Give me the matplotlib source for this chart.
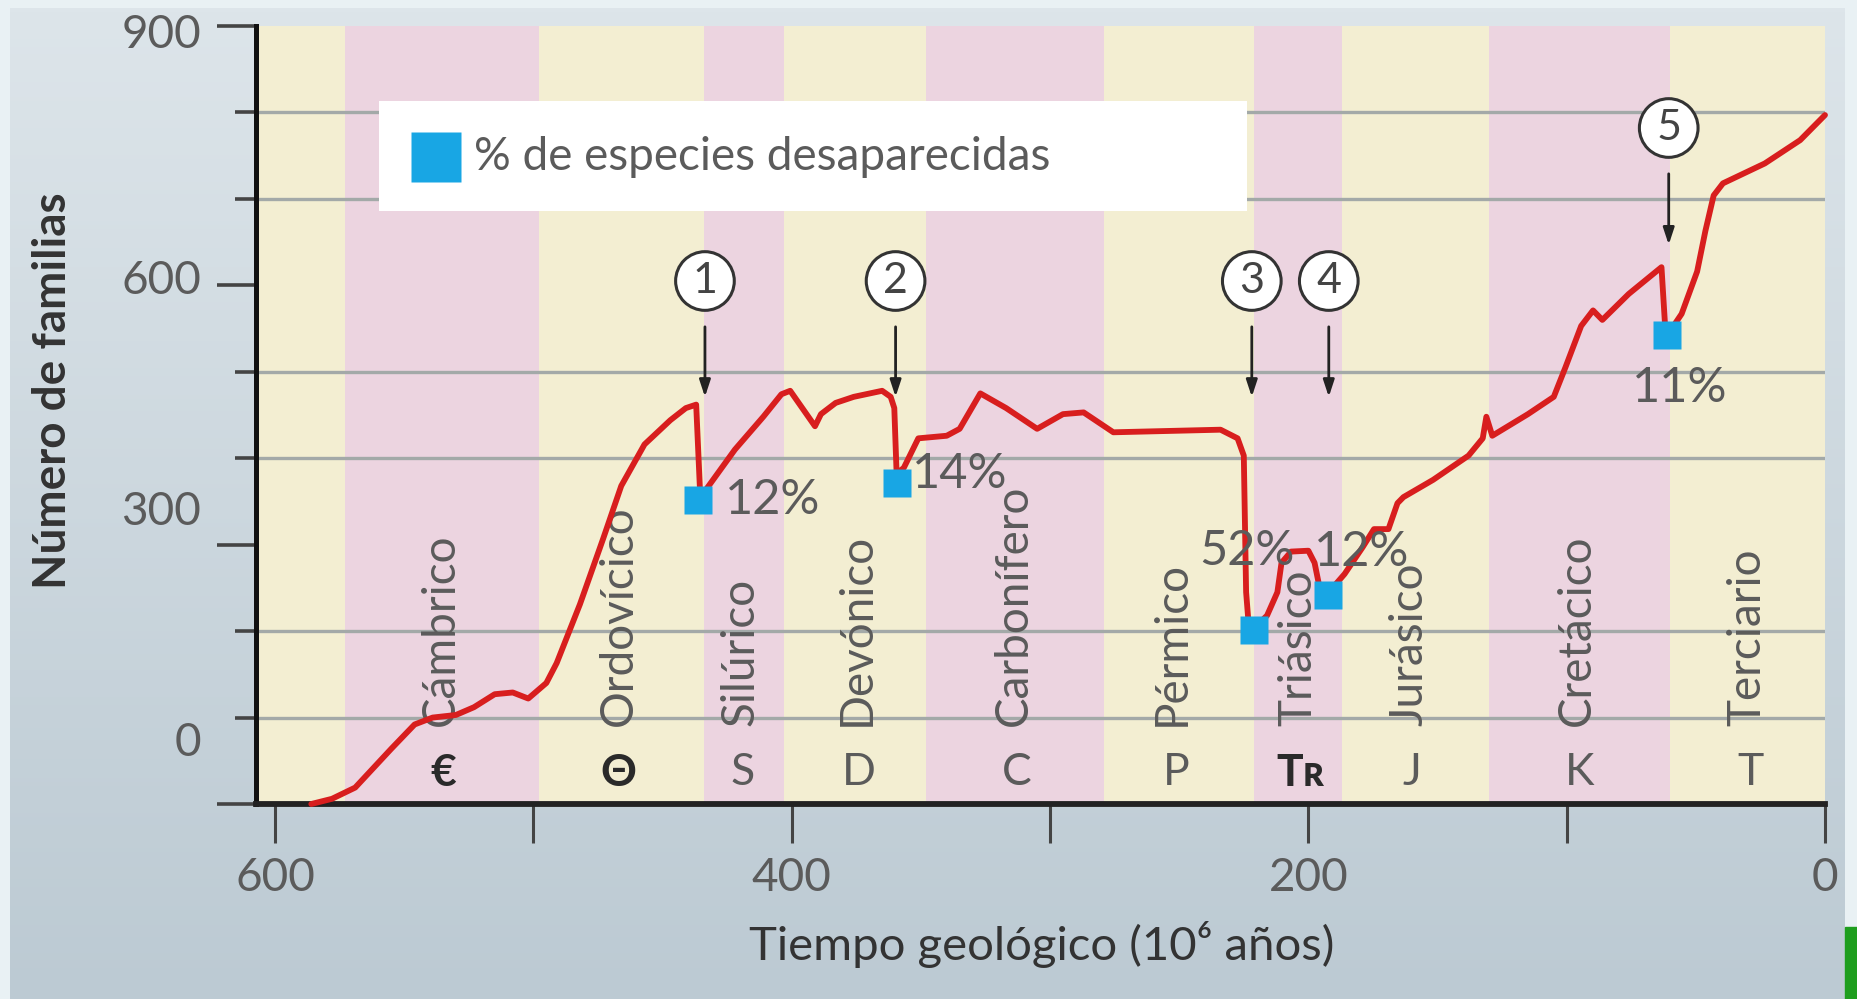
import matplotlib
matplotlib.use("Agg")
import numpy as np
import matplotlib.pyplot as plt
import matplotlib.transforms as mtransforms
from matplotlib.patches import Rectangle
from matplotlib.colors import LinearSegmentedColormap

plt.rcParams['font.family'] = ['Lato', 'DejaVu Sans']

# geological periods (Ma)
bounds = [607.4, 573, 498, 434, 403, 348, 279, 221, 187, 130, 60, 0]
periods = ["Cámbrico", "Ordovícico", "Silúrico", "Devónico", "Carbonífero",
           "Pérmico", "Triásico", "Jurásico", "Cretácico", "Terciario"]
period_x = [536, 467, 420, 375, 314, 253, 204, 161, 96, 30]
symbols = ["€", "Θ", "S", "D", "C", "P", "Tʀ", "J", "K", "T"]
symbol_x = [535, 467, 419, 374, 313, 251, 203, 160, 95, 29]

# number of families through time
time = [586, 578, 569, 555, 546, 539, 530, 523, 515, 508, 502, 495, 491, 482, 473, 466,
        457, 447, 441, 437, 435.4, 433.6, 422, 411, 404, 400.6, 391, 388.7, 383, 376,
        365, 361.7, 360.3, 359.4, 356.6, 351, 340, 335, 327, 317, 305, 295, 287, 279,
        275.5, 234, 227.4, 225, 224.1, 223.2, 220.5, 216, 212, 210.4, 206.7, 200,
        197.6, 195.3, 192.1, 186, 179, 174.6, 169, 165.5, 163.2, 151.7, 138, 132.5,
        131.1, 128.8, 115, 105, 100.5, 94.4, 89.8, 86.2, 76, 67, 63.3, 61.9, 60,
        55.5, 49.5, 46.3, 43.1, 39.5, 23.3, 9.6, 0]
families = [0, 6, 19, 64, 92, 100, 103, 112, 127, 129, 122, 140, 163, 231, 307, 368,
            416, 444, 458, 462, 355, 362, 410, 448, 474, 478, 437, 451, 464, 471,
            478, 471, 458, 382, 389, 423, 426, 434, 475, 458, 434, 451, 453, 437,
            430, 433, 423, 403, 245, 211, 205, 218, 245, 279, 292, 293,
            279, 245, 245, 266, 297, 318, 318, 348, 355, 375, 403, 423,
            448, 426, 451, 471, 505, 553, 571, 560, 590, 612, 621, 553, 547,
            567, 616, 663, 704, 718, 741, 768, 797]

# extinction events
event_num = ["1", "2", "3", "4", "5"]
event_x = [433.6, 359.8, 221.9, 192.1, 60.5]
event_circle_y = [605, 605, 605, 605, 782]
event_arrow_top = [552, 552, 552, 552, 729]
event_arrow_bot = [471, 471, 471, 471, 647]
square_x = [436.4, 359.4, 221, 192.5, 61]
square_y = [352, 371, 201, 242, 542]
pct_labels = ["12%", "14%", "52%", "12%", "11%"]
pct_x = [425.8, 353.4, 223.7, 179.2, 56.4]
pct_y = [352, 382, 293, 292, 481]
pct_ha = ["left", "left", "center", "center", "center"]

ytick_major = [0, 300, 600, 900]
ytick_minor = [100, 200, 400, 500, 700, 800]
ylabel_pos = [70, 338, 605, 890]
xtick_major = [600, 400, 200, 0]
xtick_minor = [500, 300, 100]

yellow = "#f3eed2"
pink = "#ecd4e0"
red = "#d81e1e"
blue = "#18a6e4"
grey_txt = "#5b5b5b"

fig = plt.figure(figsize=(18.57, 9.99), dpi=100)
fig.patch.set_facecolor("#e9f1f4")

# gradient panel behind everything
bg = fig.add_axes([10 / 1857, 0, 1835 / 1857, 991 / 999], zorder=0)
cmap = LinearSegmentedColormap.from_list("bgc", ["#bccad3", "#dde5ea"])
bg.imshow(np.linspace(0, 1, 256).reshape(-1, 1)[::-1], aspect="auto", cmap=cmap,
          extent=[0, 1, 0, 1])
bg.set_axis_off()

ax = fig.add_axes([256 / 1857, 195 / 999, 1569 / 1857, 778 / 999], zorder=1)
ax.set_xlim(bounds[0], 0)
ax.set_ylim(0, 900)

# period bands
for i in range(len(bounds) - 1):
    ax.axvspan(bounds[i + 1], bounds[i], color=yellow if i % 2 == 0 else pink,
               lw=0, zorder=0)

for v in ytick_minor:
    ax.axhline(v, color="#a3a9a8", lw=2.4, zorder=1)

# legend box
ax.add_patch(Rectangle((223.7, 686), 559.7 - 223.7, 813.6 - 686,
                       facecolor="white", edgecolor="none", zorder=2))
ax.plot([537.7], [748], marker="s", ms=36, color=blue, mec="none", zorder=3)
ax.text(523, 748, "% de especies desaparecidas", fontsize=33, color=grey_txt,
        va="center", ha="left", zorder=3)

# period names and symbols
for name, x in zip(periods, period_x):
    ax.text(x, 90, name, rotation=90, ha="center", va="bottom", fontsize=33,
            color=grey_txt, zorder=2)
for s, x in zip(symbols, symbol_x):
    bold = s in ("€", "Θ", "Tʀ")
    ax.text(x, 36, s, ha="center", va="center", fontsize=32,
            color="#2a2a2a" if bold else grey_txt,
            fontweight="bold" if bold else "normal", zorder=2)

# curve
ax.plot(time, families, color=red, lw=4.2, zorder=4, solid_joinstyle="round",
        solid_capstyle="round", clip_on=False)

# extinction markers
ax.plot(square_x, square_y, "s", ms=20, color=blue, mec="none", zorder=5)
for t, x, y, ha in zip(pct_labels, pct_x, pct_y, pct_ha):
    ax.text(x, y, t, ha=ha, va="center", fontsize=35, color=grey_txt, zorder=6)
for n, x, cy, a0, a1 in zip(event_num, event_x, event_circle_y, event_arrow_top, event_arrow_bot):
    ax.text(x, cy, n, ha="center", va="center", fontsize=31, color="#444444", zorder=6,
            bbox=dict(boxstyle="circle,pad=0.24", fc="white", ec="#333333", lw=2.2))
    ax.annotate("", xy=(x, a1), xytext=(x, a0), zorder=6,
                arrowprops=dict(arrowstyle="-|>,head_length=1.0,head_width=0.33",
                                color="#222222", lw=2, shrinkA=0, shrinkB=0))

# axes styling
for side in ("top", "right"):
    ax.spines[side].set_visible(False)
ax.spines["left"].set_linewidth(3.6)
ax.spines["bottom"].set_linewidth(4.2)
ax.spines["left"].set_color("#111111")
ax.spines["bottom"].set_color("#222222")

ax.set_yticks(ytick_major)
ax.set_yticks(ytick_minor, minor=True)
ax.set_yticklabels([])
ax.tick_params(axis="y", which="major", length=28, width=2.6, color="#444444")
ax.tick_params(axis="y", which="minor", length=15, width=2.6, color="#444444")
blend = mtransforms.blended_transform_factory(ax.transAxes, ax.transData)
for v, y in zip(ytick_major, ylabel_pos):
    ax.text(-0.035, y, str(v), transform=blend, ha="right", va="center",
            fontsize=33, color=grey_txt)

ax.set_xticks(xtick_major)
ax.set_xticks(xtick_minor, minor=True)
ax.set_xticklabels([str(v) for v in xtick_major], fontsize=33, color=grey_txt)
ax.tick_params(axis="x", which="both", length=28, width=2.2, color="#444444",
               direction="out", pad=10)

ax.set_xlabel("Tiempo geológico (10⁶ años)", fontsize=34, color="#333333")
ax.xaxis.set_label_coords(0.501, -0.181)
ax.xaxis.label.set_va("center")
ax.set_ylabel("Número de familias", fontsize=33, color="#333333", fontweight="bold")
ax.yaxis.set_label_coords(-0.1294, 0.531)
ax.yaxis.label.set_va("center")

# small green mark in the bottom right corner
fig.patches.append(Rectangle((1845 / 1857, 0), 12 / 1857, 72 / 999,
                             transform=fig.transFigure, color="#1e9e1e", zorder=0))

fig.savefig("out.png", dpi=100)
